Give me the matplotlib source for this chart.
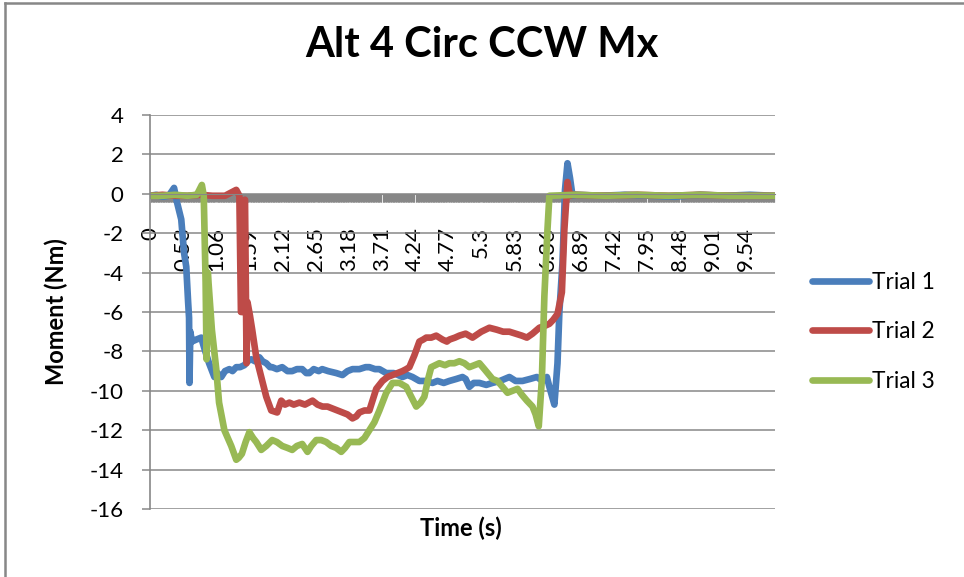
import numpy as np
import matplotlib.pyplot as plt
from matplotlib.ticker import FixedLocator

# Moment traces (Nm) vs time (s), one pair of lists per trial
t1 = [0, 0.1, 0.2, 0.3, 0.385, 0.43, 0.5, 0.545, 0.58, 0.61, 0.625, 0.632,
      0.645, 0.67, 0.74, 0.82, 0.865, 0.945, 1.03, 1.08, 1.14, 1.2, 1.27,
      1.32, 1.38, 1.44, 1.51, 1.56, 1.62, 1.68, 1.75, 1.8, 1.86, 1.92, 1.955,
      2.03, 2.115, 2.2, 2.275, 2.35, 2.435, 2.5, 2.55, 2.62, 2.7, 2.755,
      2.85, 2.98, 3.08, 3.16, 3.24, 3.35, 3.45, 3.51, 3.6, 3.67, 3.78, 3.9,
      4.04, 4.12, 4.2, 4.31, 4.4, 4.52, 4.6, 4.7, 4.79, 4.9, 5.0, 5.05, 5.11,
      5.18, 5.27, 5.38, 5.48, 5.6, 5.75, 5.85, 5.96, 6.08, 6.19, 6.28, 6.35,
      6.39, 6.47, 6.52, 6.55, 6.6, 6.64, 6.68, 6.72, 6.76, 6.81, 7.2, 7.6,
      8.0, 8.4, 8.8, 9.2, 9.6, 9.99]
v1 = [-0.1, -0.05, -0.15, -0.1, 0.3, -0.4, -1.3, -3.0, -3.7, -5.5, -6.3, -9.6,
      -7.0, -7.5, -7.4, -7.3, -7.8, -8.6, -9.3, -9.1, -9.3, -9.0, -8.9,
      -9.0, -8.8, -8.8, -8.7, -8.5, -8.4, -8.5, -8.3, -8.5, -8.6, -8.8, -8.8,
      -8.9, -8.8, -9.0, -9.0, -8.9, -8.9, -9.1, -9.1, -8.9, -9.0, -8.9,
      -9.0, -9.1, -9.2, -9.0, -8.9, -8.9, -8.8, -8.8, -8.9, -8.9, -9.1, -9.1,
      -9.3, -9.2, -9.3, -9.5, -9.5, -9.6, -9.5, -9.6, -9.5, -9.4, -9.3, -9.4,
      -9.8, -9.6, -9.6, -9.7, -9.6, -9.5, -9.3, -9.5, -9.5, -9.4, -9.3, -9.5,
      -9.3, -9.8, -10.7, -8.6, -6.0, -3.5, 0.2, 1.55, 0.8, -0.1, -0.05, -0.1,
      -0.05, -0.1, -0.15, -0.05, -0.1, -0.05, -0.1]

t2 = [0, 0.2, 0.4, 0.6, 0.8, 1.0, 1.2, 1.38, 1.43, 1.455, 1.49, 1.50, 1.52,
      1.545, 1.56, 1.60, 1.635, 1.70, 1.78, 1.86, 1.94, 2.035, 2.10, 2.16,
      2.23, 2.3, 2.39, 2.48, 2.6, 2.68, 2.76, 2.84, 2.92, 3.0, 3.08, 3.16,
      3.24, 3.3, 3.35, 3.43, 3.51, 3.56, 3.62, 3.72, 3.8, 3.88, 3.96, 4.04,
      4.1, 4.15, 4.23, 4.31, 4.37, 4.42, 4.5, 4.58, 4.68, 4.75, 4.79, 4.88,
      4.95, 5.05, 5.16, 5.3, 5.43, 5.55, 5.65, 5.75, 5.85, 5.95, 6.03, 6.12,
      6.23, 6.32, 6.39, 6.45, 6.52, 6.59, 6.63, 6.68, 6.72, 6.76, 7.3, 7.8,
      8.3, 8.8, 9.3, 9.99]
v2 = [-0.1, -0.05, -0.1, -0.1, -0.05, -0.1, -0.1, 0.2, -0.1, -6.0, -6.0, -0.5,
      -0.3, -8.6, -5.5, -6.2, -6.9, -8.3, -9.3, -10.3, -11.0, -11.1, -10.5,
      -10.7, -10.6, -10.7, -10.6, -10.7, -10.5, -10.7, -10.8, -10.8, -10.9,
      -11.0, -11.1, -11.2, -11.4, -11.3, -11.1, -11.0, -11.0, -10.5, -9.9,
      -9.5, -9.3, -9.2, -9.1, -9.0, -8.9, -8.8, -8.2, -7.5, -7.4, -7.3, -7.3,
      -7.2, -7.4, -7.5, -7.4, -7.3, -7.2, -7.1, -7.3, -7.0, -6.8, -6.9, -7.0,
      -7.0, -7.1, -7.2, -7.3, -7.1, -6.8, -6.7, -6.6, -6.4, -6.1, -5.0, -1.8,
      0.6, -0.1, -0.05, -0.1, -0.05, -0.1, -0.05, -0.1, -0.1]

t3 = [0, 0.2, 0.4, 0.6, 0.75, 0.83, 0.86, 0.89, 0.905, 0.925, 0.945, 0.99,
      1.06, 1.105, 1.19, 1.30, 1.38, 1.42, 1.47, 1.53, 1.59, 1.65, 1.70,
      1.78, 1.86, 1.955, 2.03, 2.115, 2.2, 2.275, 2.35, 2.435, 2.52, 2.58,
      2.66, 2.74, 2.82, 2.9, 2.98, 3.06, 3.12, 3.19, 3.27, 3.35, 3.43, 3.51,
      3.59, 3.67, 3.78, 3.88, 3.99, 4.1, 4.18, 4.26, 4.33, 4.39, 4.45, 4.5,
      4.63, 4.72, 4.79, 4.87, 4.95, 5.03, 5.11, 5.19, 5.27, 5.35, 5.48, 5.56,
      5.64, 5.72, 5.8, 5.88, 5.95, 6.03, 6.12, 6.17, 6.22, 6.27, 6.31, 6.36,
      6.39, 6.8, 7.3, 7.8, 8.3, 8.8, 9.3, 9.99]
v3 = [-0.1, -0.1, -0.05, -0.1, -0.05, 0.45, -0.1, -4.5, -8.4, -4.0, -4.9,
      -6.9, -8.9, -10.6, -12.0, -12.8, -13.5, -13.4, -13.2, -12.6, -12.1,
      -12.4, -12.6, -13.0, -12.8, -12.5, -12.6, -12.8, -12.9, -13.0, -12.8,
      -12.7, -13.1, -12.8, -12.5, -12.5, -12.6, -12.8, -12.9, -13.1, -12.9,
      -12.6, -12.6, -12.6, -12.4, -12.0, -11.6, -11.0, -10.1, -9.6, -9.6,
      -9.8, -10.3, -10.8, -10.6, -10.3, -9.4, -8.8, -8.6, -8.7, -8.6, -8.6,
      -8.5, -8.6, -8.8, -8.7, -8.6, -8.9, -9.4, -9.5, -9.8, -10.1, -10.0,
      -9.9, -10.2, -10.5, -10.8, -11.2, -11.8, -9.4, -5.2, -1.8, -0.1, -0.05,
      -0.1, -0.05, -0.1, -0.05, -0.1, -0.1]

trials = ["Trial 1", "Trial 2", "Trial 3"]
colors = ["#4A7EBB", "#BE4B48", "#98B954"]

# category labels shown every 0.53 s
tick_times = [0, 0.53, 1.06, 1.59, 2.12, 2.65, 3.18, 3.71, 4.24, 4.77, 5.3,
              5.83, 6.36, 6.89, 7.42, 7.95, 8.48, 9.01, 9.54]

plt.rcParams['font.family'] = ['Lato', 'DejaVu Sans']
plt.rcParams['axes.unicode_minus'] = False
grid_gray = "#878787"

fig = plt.figure(figsize=(9.64, 5.77), dpi=100)
ax = fig.add_axes([150 / 964, 1 - 509 / 577, 625 / 964, 394 / 577])

for t, v, name, c in zip([t1, t2, t3], [v1, v2, v3], trials, colors):
    ax.plot(t, v, color=c, lw=4.8, label=name,
            solid_joinstyle='round', solid_capstyle='round')

ax.set_xlim(0, 10.0)
ax.set_ylim(-16, 4)
ax.set_yticks(np.arange(-16, 5, 2))
ax.grid(axis='y', color=grid_gray, lw=1.1)
ax.set_axisbelow(True)

for s in ['top', 'right']:
    ax.spines[s].set_visible(False)
ax.spines['left'].set_color(grid_gray)
ax.spines['left'].set_linewidth(1.2)
ax.spines['bottom'].set_position(('data', 0))
ax.spines['bottom'].set_color(grid_gray)

# dense category tick marks along the zero line
ax.xaxis.set_minor_locator(FixedLocator(np.arange(0, 10.0, 0.01)))
ax.tick_params(axis='x', which='minor', length=6, width=0.8,
               color=grid_gray, direction='out')
ax.set_xticks(tick_times)
ax.set_xticklabels([f"{x:g}" for x in tick_times], rotation=90)
ax.tick_params(axis='x', which='major', length=0, pad=24, labelsize=16)
ax.tick_params(axis='y', length=6, width=1.1, color=grid_gray, pad=13,
               labelsize=16)

ax.set_xlabel("Time (s)", fontsize=17, fontweight='bold')
ax.xaxis.label.set_va('center')
ax.xaxis.set_label_coords(311 / 625, -19 / 394)
ax.set_ylabel("Moment (Nm)", fontsize=17, fontweight='bold')
ax.yaxis.label.set_va('center')
ax.yaxis.set_label_coords(-94 / 625, 0.5)

fig.text(482 / 964, 1 - 45 / 577, "Alt 4 Circ CCW Mx", ha='center',
         va='center', fontsize=30, fontweight='bold')

ax.legend(loc='upper left', bbox_to_anchor=(812 / 964, 1 - 272 / 577),
          bbox_transform=fig.transFigure, frameon=False, fontsize=16.3,
          handlelength=2.5, handletextpad=0.15, labelspacing=1.25,
          borderpad=0, borderaxespad=0)

# outer chart frame (left and top edges)
fig.add_artist(plt.Line2D([4.5 / 964, 4.5 / 964], [0, 1 - 3 / 577],
                          color=grid_gray, lw=1.8))
fig.add_artist(plt.Line2D([4.5 / 964, 1], [1 - 3 / 577, 1 - 3 / 577],
                          color=grid_gray, lw=1.8))

fig.savefig("out.png", dpi=100)
